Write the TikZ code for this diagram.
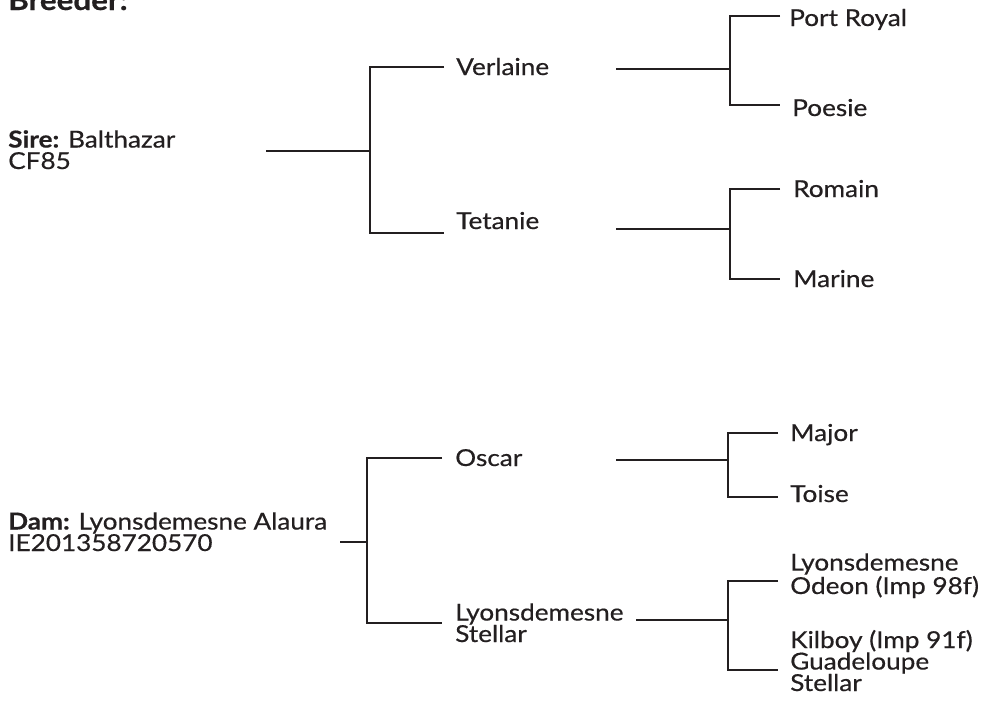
\documentclass[tikz,border=0pt]{standalone}
\usepackage{fontspec}
\setmainfont{Lato}[FakeBold=0.5, FakeStretch=1.12]
\definecolor{ink}{HTML}{231F20}
\begin{document}
\begin{tikzpicture}[x=0.75pt,y=-0.75pt,
  lbl/.style={anchor=base west, inner sep=0pt, text=ink, align=left,
    font=\fontsize{17.5}{16.1}\selectfont},
  mainline/.style={draw=ink, line width=1.5pt},
  subline/.style={draw=ink, line width=0.9pt}]
\useasboundingbox (0,0) rectangle (997,707);

% labels (base anchor = baseline of the last line)
\node[lbl, font=\fontsize{21}{22}\selectfont\bfseries] (breeder) at (8,10) {Breeder:};
\node[lbl] (sire) at (8,169) {\textbf{Sire:} Balthazar\\CF85};
\node[lbl] (dam) at (8,551) {\textbf{Dam:} Lyonsdemesne Alaura\\IE201358720570};

\node[lbl] (verl) at (456,75) {Verlaine};
\node[lbl] (tet) at (456,229) {Tetanie};
\node[lbl] (osc) at (455,466) {Oscar};
\node[lbl] (lst) at (455,642) {Lyonsdemesne\\Stellar};

\node[lbl] (port) at (789,26) {Port Royal};
\node[lbl] (poes) at (792,116) {Poesie};
\node[lbl] (rom) at (793,197) {Romain};
\node[lbl] (mar) at (793,287) {Marine};
\node[lbl] (maj) at (790,441) {Major};
\node[lbl] (toi) at (790,502) {Toise};
\node[lbl] (ode) at (790,594) {Lyonsdemesne\\Odeon (Imp 98f)};
\node[lbl] (kil) at (790,691) {Kilboy (Imp 91f)\\Guadeloupe\\Stellar};

% coordinates: sire tree
\coordinate (s0) at (266,151);
\coordinate (sj) at (370,151);
\coordinate (sv) at (444,67);
\coordinate (st) at (444,233);
% verlaine branch
\coordinate (v0) at (616,69);
\coordinate (vj) at (730,69);
\coordinate (vp) at (780,16);
\coordinate (vq) at (780,105);
% tetanie branch
\coordinate (t0) at (616,229);
\coordinate (tj) at (730,229);
\coordinate (tr) at (780,189);
\coordinate (tm) at (780,279);
% dam tree
\coordinate (d0) at (340,542);
\coordinate (dj) at (367,542);
\coordinate (do) at (442,458);
\coordinate (dl) at (442,623);
% oscar branch
\coordinate (o0) at (616,460);
\coordinate (oj) at (728,460);
\coordinate (om) at (778,433);
\coordinate (ot) at (778,497);
% stellar branch
\coordinate (l0) at (636,620);
\coordinate (lj) at (728,620);
\coordinate (lo) at (778,581);
\coordinate (lk) at (778,670);

% connectors
\draw[mainline] (s0) -- (sj);
\draw[mainline] (sv) -| (sj) |- (st);
\draw[subline] (v0) -- (vj);
\draw[subline] (vp) -| (vj) |- (vq);
\draw[subline] (t0) -- (tj);
\draw[subline] (tr) -| (tj) |- (tm);

\draw[mainline] (d0) -- (dj);
\draw[mainline] (do) -| (dj) |- (dl);
\draw[subline] (o0) -- (oj);
\draw[subline] (om) -| (oj) |- (ot);
\draw[subline] (l0) -- (lj);
\draw[subline] (lo) -| (lj) |- (lk);
\end{tikzpicture}
\end{document}
